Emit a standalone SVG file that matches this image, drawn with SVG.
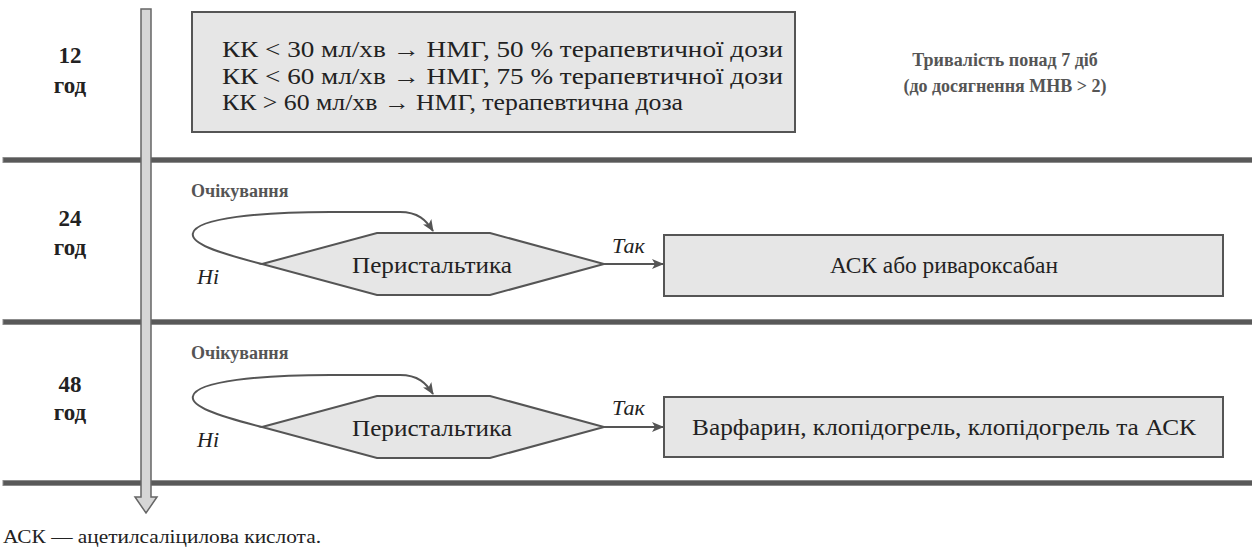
<svg xmlns="http://www.w3.org/2000/svg" width="1252" height="548" viewBox="0 0 1252 548">
<style>
.t{font-family:'Liberation Serif','DejaVu Serif',serif;fill:#222;}
.b{font-family:'Liberation Serif','DejaVu Serif',serif;font-weight:bold;}
.lab{font-size:23px;fill:#222;text-anchor:middle;}
.gray{fill:#555;font-size:18px;}
.it{font-family:'Liberation Serif','DejaVu Serif',serif;font-style:italic;fill:#222;font-size:22px;}
.box{fill:#e6e6e6;stroke:#555;stroke-width:2;}
.sep{fill:#595959;stroke:#8c8c8c;stroke-width:1;}
.con{fill:none;stroke:#555;stroke-width:2;}
</style>
<defs>
<marker id="ah" viewBox="0 0 12 10" refX="11" refY="5" markerWidth="12" markerHeight="10" markerUnits="userSpaceOnUse" orient="auto">
<path d="M0,0 L12,5 L0,10 L3,5 Z" fill="#555"/>
</marker>
</defs>
<rect width="1252" height="548" fill="#fff"/>
<g id="separators">
<rect class="sep" x="3" y="157.5" width="1252" height="5"/>
<rect class="sep" x="3" y="319.5" width="1252" height="5"/>
<rect class="sep" x="3" y="480.5" width="1252" height="5"/>
</g>
<g id="timeline">
<polygon points="141,9 151,9 151,497 157,497 146,513 135,497 141,497" fill="#d6d6d6" stroke="#666" stroke-width="1.5"/>
</g>
<g id="labels">
<text class="b lab" x="70" y="63">12</text>
<text class="b lab" x="70" y="93">год</text>
<text class="b lab" x="70" y="226">24</text>
<text class="b lab" x="70" y="255">год</text>
<text class="b lab" x="70" y="392">48</text>
<text class="b lab" x="70" y="420">год</text>
</g>
<g id="node-doses">
<rect class="box" x="192" y="12" width="603" height="120"/>
<text class="t" font-size="23" x="222" y="57" textLength="561" lengthAdjust="spacingAndGlyphs">КК &lt; 30 мл/хв → НМГ, 50 % терапевтичної дози</text>
<text class="t" font-size="23" x="222" y="84" textLength="561" lengthAdjust="spacingAndGlyphs">КК &lt; 60 мл/хв → НМГ, 75 % терапевтичної дози</text>
<text class="t" font-size="23" x="222" y="110" textLength="461" lengthAdjust="spacingAndGlyphs">КК &gt; 60 мл/хв → НМГ, терапевтична доза</text>
</g>
<g id="node-duration">
<text class="b gray" x="1005" y="66" text-anchor="middle">Тривалість понад 7 діб</text>
<text class="b gray" x="1005" y="92" text-anchor="middle">(до досягнення МНВ &gt; 2)</text>
</g>
<g id="node-wait1"><text class="b gray" x="191" y="197">Очікування</text></g>
<g id="node-wait2"><text class="b gray" x="191" y="359">Очікування</text></g>
<g id="node-peri1">
<polygon class="box" points="262,264 377,233 490,233 604,264 490,295 377,295"/>
<text class="t" font-size="23" x="352" y="273" textLength="160" lengthAdjust="spacingAndGlyphs">Перистальтика</text>
</g>
<g id="node-peri2">
<polygon class="box" points="262,427 377,396 490,396 604,427 490,458 377,458"/>
<text class="t" font-size="23" x="352" y="436" textLength="160" lengthAdjust="spacingAndGlyphs">Перистальтика</text>
</g>
<g id="node-ask">
<rect class="box" x="664" y="235" width="559" height="61"/>
<text class="t" font-size="23" x="830" y="273" textLength="228" lengthAdjust="spacingAndGlyphs">АСК або ривароксабан</text>
</g>
<g id="node-warf">
<rect class="box" x="664" y="397" width="559" height="60"/>
<text class="t" font-size="23" x="692" y="435" textLength="504" lengthAdjust="spacingAndGlyphs">Варфарин, клопідогрель, клопідогрель та АСК</text>
</g>
<g id="connectors">
<path class="con" marker-end="url(#ah)" d="M262,264 C215,252 190,243 193,233 C197,218 260,212 330,212 L400,212 C418,212 426,220 433,231"/>
<path class="con" marker-end="url(#ah)" d="M604,264 L663,264"/>
<path class="con" marker-end="url(#ah)" d="M262,427 C215,415 190,406 193,396 C197,381 260,375 330,375 L400,375 C418,375 426,383 433,394"/>
<path class="con" marker-end="url(#ah)" d="M604,427 L663,427"/>
<text class="it" x="197" y="284">Ні</text>
<text class="it" x="612" y="253">Так</text>
<text class="it" x="197" y="447">Ні</text>
<text class="it" x="612" y="415">Так</text>
</g>
<text class="t" font-size="19" x="3" y="543" textLength="318" lengthAdjust="spacingAndGlyphs">АСК — ацетилсаліцилова кислота.</text>
</svg>
